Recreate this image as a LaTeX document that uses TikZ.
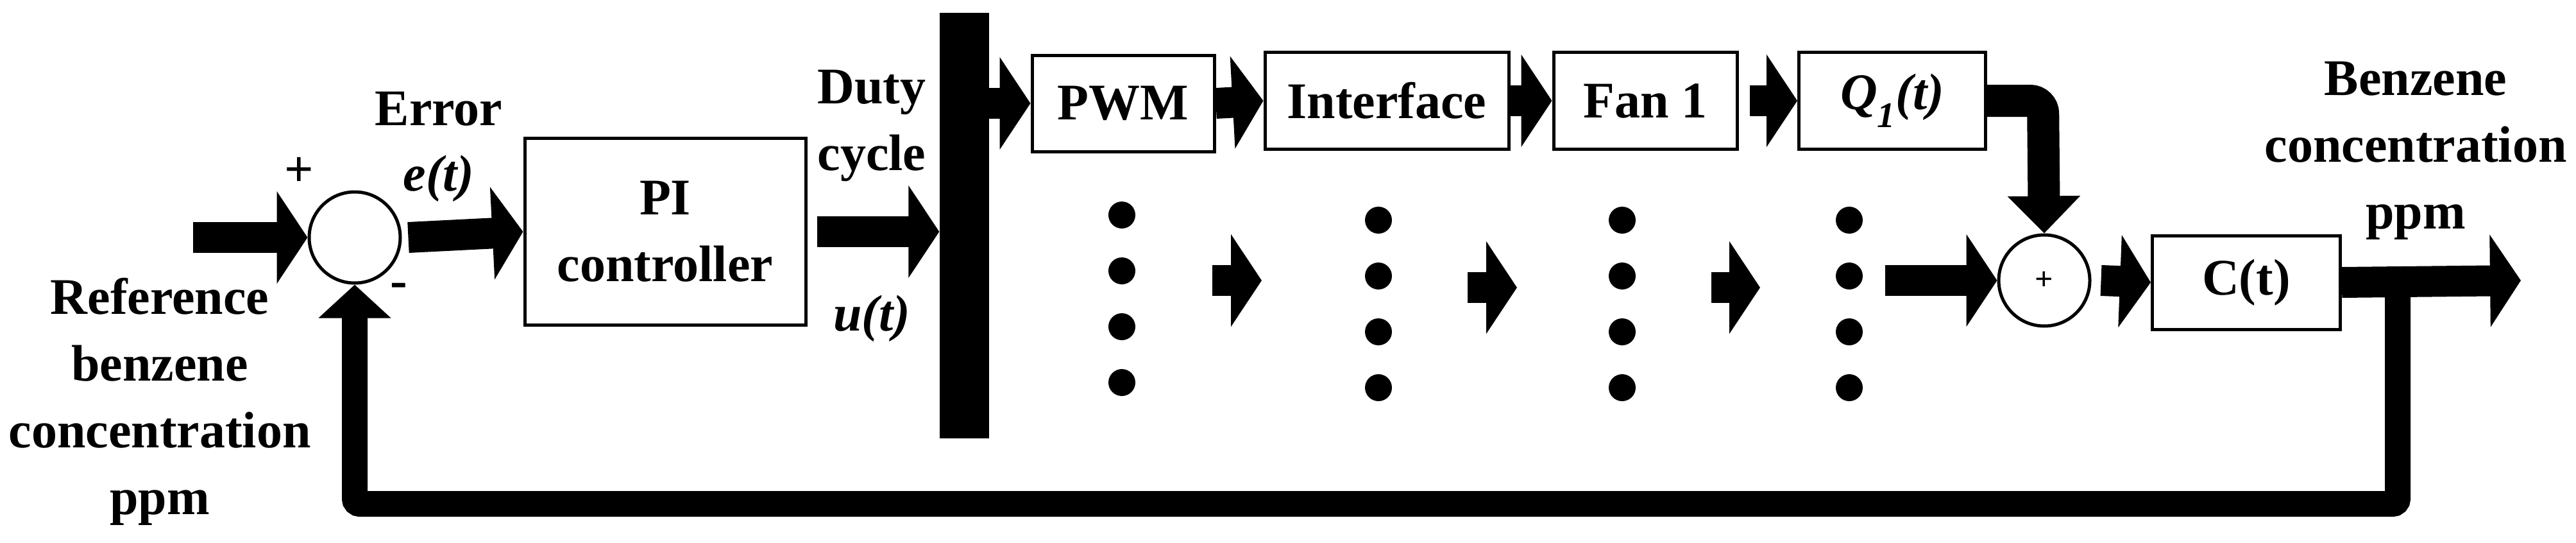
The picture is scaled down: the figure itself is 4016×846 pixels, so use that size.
\documentclass[tikz,border=0pt]{standalone}
\usepackage{fontspec}
\setmainfont{Liberation Serif}
\usetikzlibrary{arrows.meta}
\begin{document}
\begin{tikzpicture}[x=1pt,y=-1pt,
  txt/.style={inner sep=0,font=\fontsize{80}{104}\selectfont\bfseries,align=center},
  box/.style={draw,line width=5pt,inner sep=0,font=\fontsize{80}{104}\selectfont\bfseries,align=center},
  sum/.style={draw,circle,line width=5pt,minimum size=142pt,inner sep=0},
  blk/.style={line width=48pt,-{Triangle[length=48pt,width=142pt]}},
  fb/.style={line width=40pt,rounded corners=8pt},
  dot/.style={fill,circle,minimum size=42pt,inner sep=0}]
\useasboundingbox (0,0) rectangle (4016,846);
% nodes
\coordinate (in) at (301,370);
\node[sum] (s1) at (553,370) {};
\node[box,minimum width=438pt,minimum height=291pt] (pi) at (1037,361) {PI\\controller};
\node[fill,minimum width=77pt,minimum height=663pt,inner sep=0] (bar) at (1503,351) {};
\node[box,minimum width=284pt,minimum height=150pt] (pwm) at (1751,161) {PWM};
\node[box,minimum width=380pt,minimum height=151pt] (itf) at (2162,157) {Interface};
\node[box,minimum width=286pt,minimum height=151pt] (fan) at (2565,157) {Fan 1};
\node[box,minimum width=291pt,minimum height=151pt] (q1) at (2950,157) {\itshape Q\textsubscript{1}(t)};
\node[sum,font=\fontsize{50}{50}\selectfont\bfseries] (s2) at (3187,437) {+};
\node[box,minimum width=293pt,minimum height=146pt] (ct) at (3502,440) {C(t)};
\coordinate (out) at (3930,437);
\coordinate (tap) at (3738,437);
% labels
\node[txt] at (466,268) {+};
\node[txt] at (622,452) {-};
\node[txt] at (684,170) {Error};
\node[txt] at (684,278) {\itshape e(t)};
\node[txt] at (1359,196) {Duty\\cycle};
\node[txt] at (1359,496) {\itshape u(t)};
\node[txt] at (249,626) {Reference\\benzene\\concentration\\ppm};
\node[txt] at (3766,235) {Benzene\\concentration\\ppm};
% arrows
\draw[blk] (in) -- (s1.west);
\draw[blk] (s1.east) ++(10,0) -- (pi.west);
\draw[blk] ([xshift=15pt]pi.east) -- (bar.west |- pi.east);
\draw[blk] (bar.east |- pwm.west) -- (pwm.west);
\draw[blk] (pwm.east) -- (itf.west);
\draw[blk] (itf.east) -- (fan.west);
\draw[blk] ([xshift=17pt]fan.east) -- (q1.west);
\draw[blk] (ct.east) -- (out);
\coordinate (d1) at (2939,437);
\draw[blk] (d1) -- (s2.west);
\draw[blk] ([xshift=15pt]s2.east) -- (ct.west);
\draw[line width=50pt,-{Triangle[length=58pt,width=110pt]},rounded corners=20pt] (q1.east) -- (3185,157) -- (s2.north);
\draw[fb,-{Triangle[length=52pt,width=110pt]}] (tap) -- (3738,785) -- (553,785) -- (s1.south);
% small arrows
\coordinate (a1) at (1890,437); \coordinate (a1e) at (1967,437);
\coordinate (a2) at (2288,448); \coordinate (a2e) at (2365,448);
\coordinate (a3) at (2668,448); \coordinate (a3e) at (2744,448);
\draw[blk] (a1) -- (a1e);
\draw[blk] (a2) -- (a2e);
\draw[blk] (a3) -- (a3e);
% dots
\foreach \x/\y [count=\i] in {1749/335,2149/343,2529/343,2883/343}{
  \foreach \k in {0,1,2,3}{
    \node[dot] (dt\i\k) at (\x,\y+87*\k) {};
  }
}
\end{tikzpicture}
\end{document}
